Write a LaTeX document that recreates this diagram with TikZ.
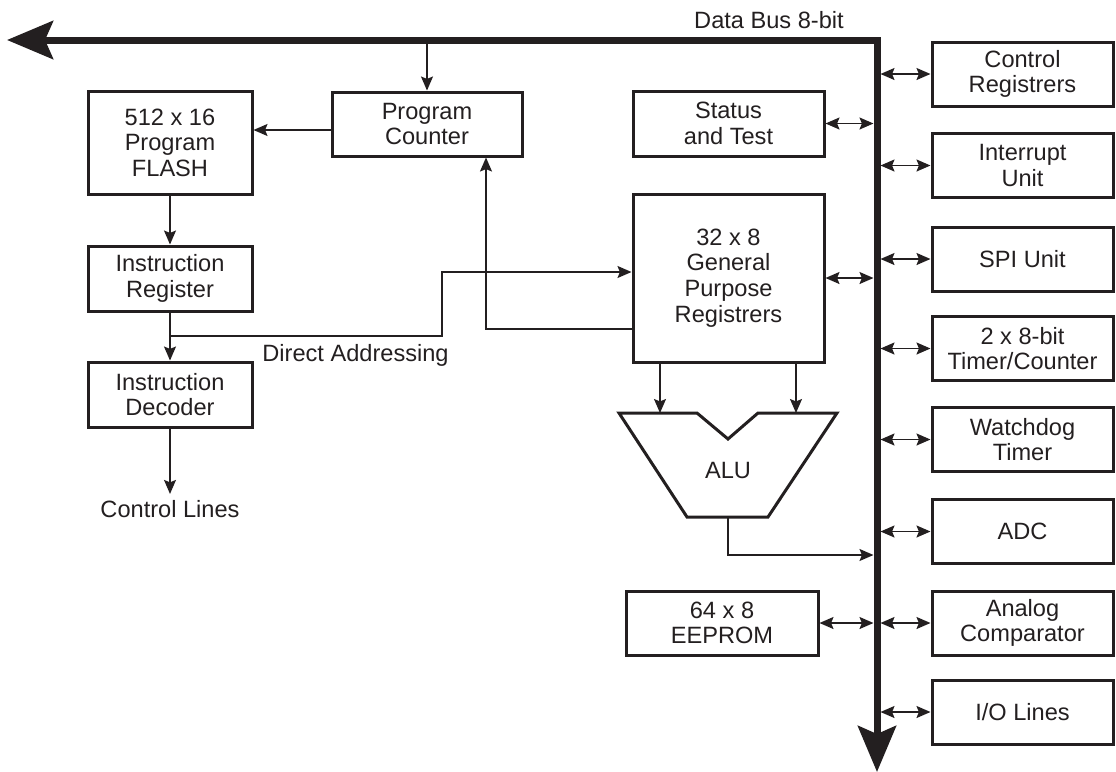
\documentclass[tikz,border=0pt]{standalone}
\usepackage{fontspec}
\setmainfont{Liberation Sans}
\usetikzlibrary{arrows.meta}
\definecolor{ink}{HTML}{231F20}
\tikzset{
	blk/.style={draw=ink, line width=1.5pt, align=center, inner sep=0pt, minimum height=32pt, text=ink},
	arr/.style={draw=ink, line width=0.7pt, -{Stealth[length=7pt,width=6pt,inset=1.2pt]}},
	dbl/.style={draw=ink, line width=0.8pt, {Stealth[length=7pt,width=6pt,inset=1.2pt]}-{Stealth[length=7pt,width=6pt,inset=1.2pt]}},
	bus/.style={draw=ink, line width=3.5pt, {Stealth[length=23pt,width=19pt,inset=4pt]}-{Stealth[length=23pt,width=19pt,inset=4pt]}},
	lbl/.style={text=ink, inner sep=2pt}
}

\begin{document}
\begin{tikzpicture}[x=0.5pt, y=-0.5pt, font=\fontsize{11.8}{12.8}\selectfont]
		%%%%% START %%%%%
		\useasboundingbox (0,0) rectangle (1116,772);
		
		% data bus
		\draw[bus] (7,40) -- (877,40) -- (877,772);
		\node[lbl] (dbus) at (769,20) {Data Bus 8-bit};
		\coordinate (busB) at (0,43.5);
		\coordinate (busL) at (873.5,0);
		\coordinate (busR) at (880.5,0);
		
		% program side
		\node[blk, minimum width=95pt] (pc) at (427,124) {Program\\Counter};
		\node[blk, minimum width=82pt, minimum height=51.5pt] (flash) at (170,142.5) {512 x 16\\Program\\FLASH};
		\node[blk, minimum width=82pt, minimum height=32.5pt] (ir) at (170,278.5) {Instruction\\Register};
		\node[blk, minimum width=82pt, minimum height=32.5pt] (id) at (170,394.5) {Instruction\\Decoder};
		\node[lbl, inner sep=3pt] (ctl) at (170,509) {Control Lines};
		\node[lbl, anchor=west] (dalbl) at (258,355) {Direct Addressing};
		
		\draw[arr] (pc.north |- busB) -- (pc.north);
		\draw[arr] ([yshift=-3pt]pc.west) -- ([yshift=-3pt]pc.west -| flash.east);
		\draw[arr] (flash.south) -- (ir.north);
		\draw[arr] (ir.south) -- (id.north);
		\draw[arr] (id.south) -- (ctl.north);
		
		% data side
		\node[blk, minimum width=95.5pt, minimum height=32.5pt] (stat) at (728.5,123.5) {Status\\and Test};
		\node[blk, minimum width=95.5pt, minimum height=84pt] (gpr) at (728.5,278) {32 x 8\\General\\Purpose\\Registrers};
		\node[blk, minimum width=96pt] (eep) at (722,623) {64 x 8\\EEPROM};
		
		\draw[arr] (ir.south |- 0,336) -| (442,272) -- ([yshift=3pt]gpr.west);
		\draw[arr] ([yshift=-25.5pt]gpr.west) -| (pc.south -| 486,0);
		\draw[dbl] (stat.east) -- (stat.east -| busL);
		\draw[dbl] (gpr.east) -- (gpr.east -| busL);
		\draw[dbl] (eep.east) -- (eep.east -| busL);
		
		% ALU
		\draw[ink, line width=1.5pt] (619,413) -- (697,413) -- (728,439) -- (758,413) -- (837,413) -- (768,517) -- (687,517) -- cycle;
		\node[lbl] (alu) at (728,470) {ALU};
		\coordinate (aluA) at (660,413);
		\coordinate (aluB) at (796,413);
		\coordinate (aluout) at (728,517);
		\draw[arr] (gpr.south -| aluA) -- (aluA);
		\draw[arr] (gpr.south -| aluB) -- (aluB);
		\draw[arr] (aluout) |- (busL |- 0,555);
		
		% peripherals
		\node[blk, minimum width=90.5pt] (creg) at (1022.5,74) {Control\\Registrers};
		\node[blk, minimum width=90.5pt] (intr) at (1022.5,165.5) {Interrupt\\Unit};
		\node[blk, minimum width=90.5pt] (spi) at (1022.5,259) {SPI Unit};
		\node[blk, minimum width=90.5pt] (tmr) at (1022.5,348.5) {2 x 8-bit\\Timer/Counter};
		\node[blk, minimum width=90.5pt] (wdt) at (1022.5,439.5) {Watchdog\\Timer};
		\node[blk, minimum width=90.5pt] (adc) at (1022.5,531.5) {ADC};
		\node[blk, minimum width=90.5pt] (acmp) at (1022.5,623) {Analog\\Comparator};
		\node[blk, minimum width=90.5pt] (io) at (1022.5,712) {I/O Lines};
		
		\foreach \n in {creg,intr,spi,tmr,wdt,adc,acmp,io}
			\draw[dbl] (\n.west -| busR) -- (\n.west);
		%%%%% END %%%%%
	\end{tikzpicture}
\end{document}
